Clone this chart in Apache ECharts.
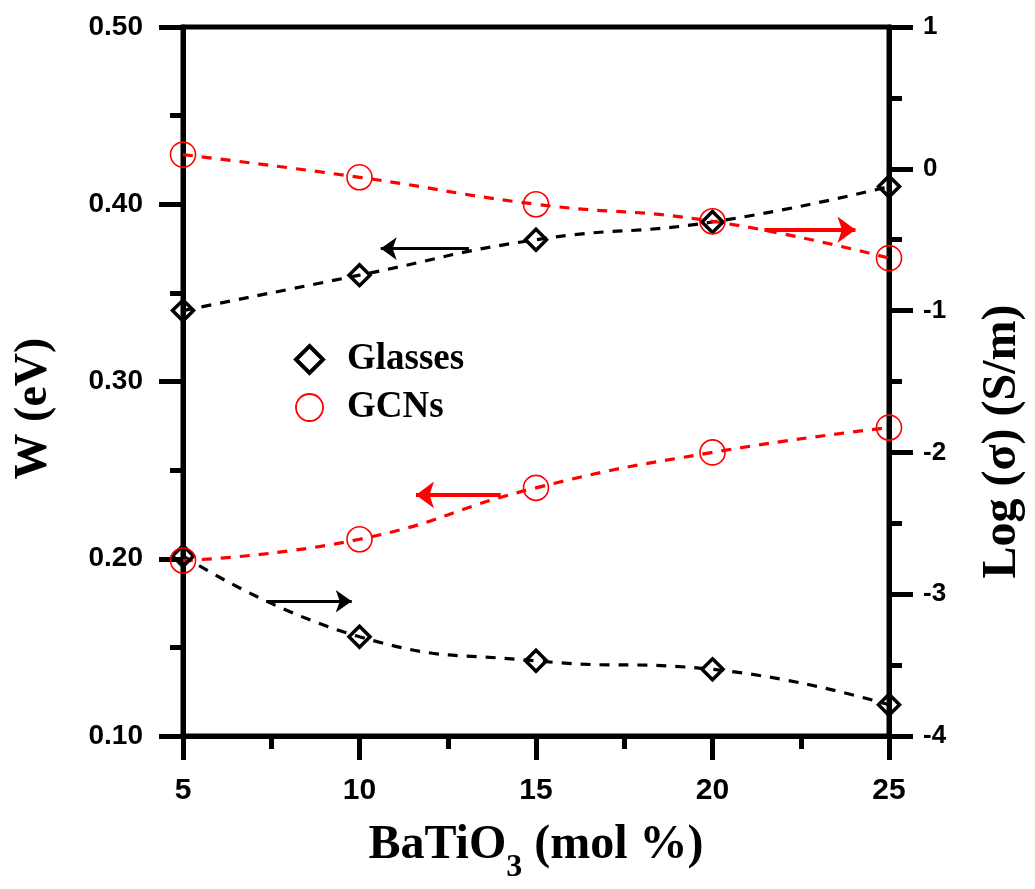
<!DOCTYPE html>
<html>
<head>
<meta charset="utf-8">
<script src="https://cdn.jsdelivr.net/npm/echarts@6/dist/echarts.min.js"></script>
<style>
  html, body { margin: 0; padding: 0; background: #fff; overflow: hidden; width: 1035px; height: 889px; }
  #container { width: 1035px; height: 889px; }
</style>
</head>
<body>
<div id="container"></div>
<script>
// BaTiO3 content (mol %)
var xValues = [5, 10, 15, 20, 25];

// Glasses
var glassW = [0.34, 0.36, 0.38, 0.39, 0.41];
var glassLogS = [-2.73, -3.30, -3.47, -3.53, -3.78];

// GCNs
var gcnW = [0.199, 0.211, 0.240, 0.260, 0.274];
var gcnLogS = [0.10, -0.06, -0.25, -0.37, -0.63];

// arrows pointing at the axis each curve belongs to (data units)
var arrowGlassW = [[13.1, 0.375], [10.6, 0.375]];
var arrowGcnW = [[14.0, 0.236], [11.6, 0.236]];
var arrowGlassLogS = [[7.36, -3.05], [9.78, -3.05]];
var arrowGcnLogS = [[21.47, -0.43], [24.05, -0.43]];

var SANS = 'Liberation Sans';
var SERIF = 'Liberation Serif';

function pairs(ys) {
    return xValues.map(function (x, i) { return [x, ys[i]]; });
}

function curve(data, yIndex, color, arrow, arrowWidth, headSize) {
    return {
        type: 'line',
        yAxisIndex: yIndex,
        data: pairs(data),
        smooth: 0.5,
        symbol: 'none',
        z: 2,
        lineStyle: { color: color, width: 3.2, type: [10, 9] },
        markLine: {
            silent: true,
            symbol: ['none', 'arrow'],
            symbolSize: headSize,
            label: { show: false },
            lineStyle: { color: color, width: arrowWidth, type: 'solid' },
            data: [[{ coord: arrow[0] }, { coord: arrow[1] }]]
        }
    };
}

function marks(name, data, yIndex, symbol, size, color, borderWidth) {
    return {
        name: name,
        type: 'scatter',
        yAxisIndex: yIndex,
        data: pairs(data),
        symbol: symbol,
        symbolSize: size,
        clip: false,
        z: 3,
        itemStyle: { color: 'transparent', borderColor: color, borderWidth: borderWidth, opacity: 1 }
    };
}

var tickLabel = { fontFamily: SANS, fontWeight: 'bold', color: '#000' };

function axisCommon() {
    return {
        axisLine: { show: true, onZero: false, lineStyle: { color: '#000', width: 5 } },
        axisTick: { show: true, inside: false, length: 24, lineStyle: { color: '#000', width: 5 } },
        minorTick: { show: true, splitNumber: 2, length: 13, lineStyle: { color: '#000', width: 5 } },
        splitLine: { show: false },
        minorSplitLine: { show: false }
    };
}

var xAxis = Object.assign(axisCommon(), {
    type: 'value',
    min: 5,
    max: 25,
    interval: 5,
    name: '{a|BaTiO}{s|3}{a| (mol %)}',
    nameLocation: 'middle',
    nameGap: 86,
    nameTextStyle: {
        rich: {
            a: { fontFamily: SERIF, fontWeight: 'bold', fontSize: 48, color: '#000', lineHeight: 62, verticalAlign: 'top' },
            s: { fontFamily: SERIF, fontWeight: 'bold', fontSize: 32, color: '#000', lineHeight: 32, verticalAlign: 'bottom' }
        }
    },
    axisLabel: Object.assign({ fontSize: 30, margin: 40 }, tickLabel)
});

var yLeft = Object.assign(axisCommon(), {
    type: 'value',
    position: 'left',
    min: 0.1,
    max: 0.5,
    interval: 0.1,
    name: 'W (eV)',
    nameLocation: 'middle',
    nameRotate: 90,
    nameGap: 126,
    nameTextStyle: { fontFamily: SERIF, fontWeight: 'bold', fontSize: 46, color: '#000', padding: [0, 54, 0, 0] },
    axisLabel: Object.assign({
        fontSize: 28,
        margin: 40,
        formatter: function (v) { return v.toFixed(2); }
    }, tickLabel)
});

var yRight = Object.assign(axisCommon(), {
    type: 'value',
    position: 'right',
    min: -4,
    max: 1,
    interval: 1,
    name: 'Log (σ) (S/m)',
    nameLocation: 'middle',
    nameRotate: 90,
    nameGap: 90,
    nameTextStyle: { fontFamily: SERIF, fontWeight: 'bold', fontSize: 48, color: '#000', padding: [0, 120, 0, 0] },
    axisLabel: Object.assign({ fontSize: 26, margin: 34 }, tickLabel)
});

var option = {
    backgroundColor: '#fff',
    animation: false,
    grid: {
        left: 183, right: 133, top: 27, bottom: 144,
        show: true, borderColor: '#000', borderWidth: 5, backgroundColor: 'transparent'
    },
    legend: {
        data: [
            { name: 'Glasses', itemStyle: { color: 'transparent', borderColor: '#000', borderWidth: 4 } },
            { name: 'GCNs', itemStyle: { color: 'transparent', borderColor: '#ff0000', borderWidth: 1.8 } }
        ],
        orient: 'vertical',
        left: 289,
        top: 336,
        itemWidth: 27,
        itemHeight: 27,
        itemGap: 11,
        selectedMode: false,
        textStyle: { fontFamily: SERIF, fontWeight: 'bold', fontSize: 37, color: '#000', padding: [0, 0, 0, 19] }
    },
    xAxis: xAxis,
    yAxis: [yLeft, yRight],
    series: [
        curve(glassW, 0, '#000', arrowGlassW, 3, [17, 16]),
        curve(glassLogS, 1, '#000', arrowGlassLogS, 3, [17, 16]),
        curve(gcnW, 0, '#ff0000', arrowGcnW, 4, [20, 18]),
        curve(gcnLogS, 1, '#ff0000', arrowGcnLogS, 4, [20, 18]),
        marks('Glasses', glassW, 0, 'diamond', [21, 21], '#000', 3.5),
        marks('Glasses', glassLogS, 1, 'diamond', [21, 21], '#000', 3.5),
        marks('GCNs', gcnW, 0, 'circle', 25, '#ff0000', 1.6),
        marks('GCNs', gcnLogS, 1, 'circle', 25, '#ff0000', 1.6)
    ]
};

var myChart = echarts.init(document.getElementById('container'), null, { width: 1035, height: 889 });
myChart.setOption(option);
</script>
</body>
</html>
